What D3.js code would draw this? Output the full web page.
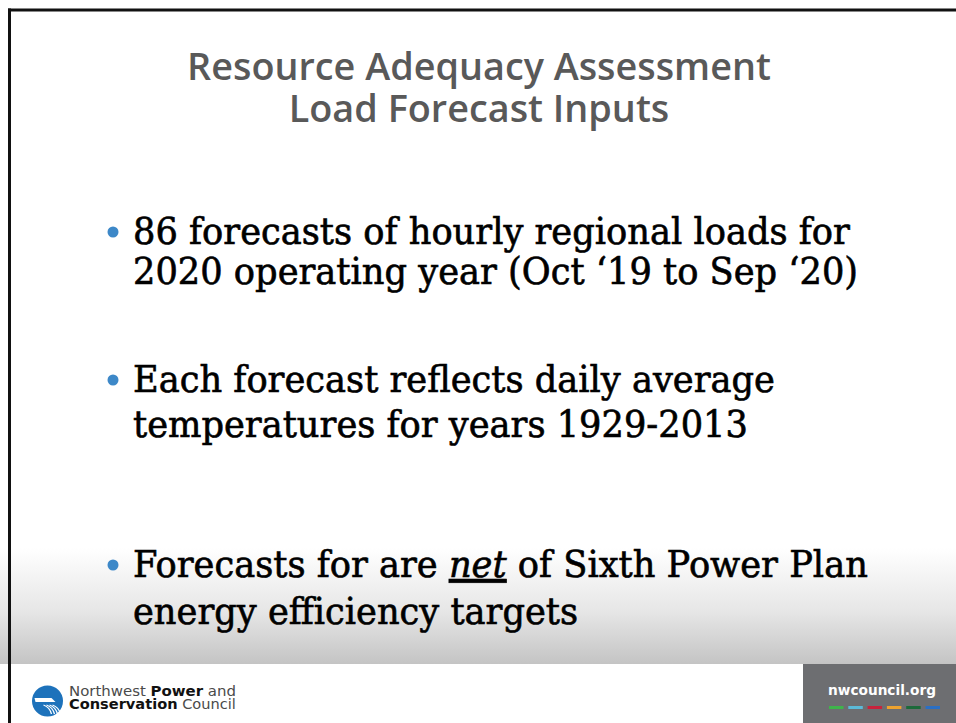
<!DOCTYPE html>
<html>
<head>
<meta charset="utf-8">
<script src="https://cdn.jsdelivr.net/npm/d3@7"></script>
<style>
  body { margin: 0; background: #fff; }
  svg { display: block; }
</style>
</head>
<body>
<div id="slide"></div>
<script>
// slide content
const titleLines = ["Resource Adequacy Assessment", "Load Forecast Inputs"];
const bulletLines = [
  ["86 forecasts of hourly regional loads for", "2020 operating year (Oct \u201819 to Sep \u201820)"],
  ["Each forecast reflects daily average", "temperatures for years 1929-2013"],
  ["Forecasts for are _net_ of Sixth Power Plan", "energy efficiency targets"]
];
const orgLine1 = [["Northwest ", false], ["Power", true], [" and", false]];
const orgLine2 = [["Conservation", true], [" Council", false]];
const siteLabel = "nwcouncil.org";
const dashColors = ["#3fb44b", "#5bbad8", "#c8223c", "#eea22e", "#1c6a3a", "#2a6fc4"];

const W = 956, H = 723;
const bulletTop = [244, 392, 577];
const bulletGap = [40, 45, 47];
const textX = 133;

const svg = d3.select("#slide").append("svg")
    .attr("width", W)
    .attr("height", H);

// shrink text to a target width
function fitWidth(sel, target) {
  const w = sel.node().getComputedTextLength();
  const fs = parseFloat(sel.attr("font-size"));
  sel.attr("font-size", fs * target / w);
  return fs * target / w;
}

// bottom gradient band
const defs = svg.append("defs");
const grad = defs.append("linearGradient")
    .attr("id", "fade")
    .attr("x1", 0).attr("y1", 0).attr("x2", 0).attr("y2", 1);
grad.append("stop").attr("offset", "0%").attr("stop-color", "#ffffff");
grad.append("stop").attr("offset", "55%").attr("stop-color", "#e6e6e6");
grad.append("stop").attr("offset", "100%").attr("stop-color", "#c4c4c4");

svg.append("rect")
    .attr("x", 0).attr("y", 548)
    .attr("width", W).attr("height", 116)
    .attr("fill", "url(#fade)");

// title
const title = svg.append("g")
    .attr("font-family", "'Open Sans', 'DejaVu Sans', sans-serif")
    .attr("font-weight", 600)
    .attr("fill", "#595959")
    .attr("text-anchor", "middle");

const titleText = title.selectAll("text")
  .data(titleLines)
  .join("text")
    .attr("x", 479)
    .attr("y", (d, i) => 80 + i * 42)
    .attr("font-size", 30)
    .text(d => d);

const titleSize = fitWidth(titleText.filter((d, i) => i === 0), 584);
titleText.attr("font-size", titleSize);

// bullets
const body = svg.append("g")
    .attr("font-family", "'DejaVu Serif', serif")
    .attr("fill", "#000")
    .attr("stroke", "#000")
    .attr("stroke-width", 0.65);

const items = body.selectAll("g.item")
  .data(bulletLines)
  .join("g")
    .attr("class", "item");

items.append("circle")
    .attr("cx", 113)
    .attr("cy", (d, i) => bulletTop[i] - 12)
    .attr("r", 5.5)
    .attr("stroke", "none")
    .attr("fill", "#3d88c8");

const lines = items.selectAll("text")
  .data((d, i) => d.map((t, j) => ({ t, y: bulletTop[i] + j * bulletGap[i] })))
  .join("text")
    .attr("font-size", 37);

lines.each(function(d) {
  const parts = d.t.split("_");
  d3.select(this).selectAll("tspan")
    .data(parts)
    .join("tspan")
      .attr("font-style", (p, k) => k % 2 ? "italic" : null)
      .attr("text-decoration", (p, k) => k % 2 ? "underline" : null)
      .text(p => p);
});

// Cambria-like: tall glyphs squeezed to the reference line width
const firstLen = lines.filter(d => d.t === bulletLines[0][0]).node().getComputedTextLength();
const squeeze = 717 / firstLen;
lines.attr("transform", d => `translate(${textX},${d.y}) scale(${squeeze},1)`);

// footer
svg.append("rect")
    .attr("x", 0).attr("y", 664)
    .attr("width", W).attr("height", H - 664)
    .attr("fill", "#fff");

svg.append("rect")
    .attr("x", 803).attr("y", 664)
    .attr("width", W - 803).attr("height", H - 664)
    .attr("fill", "#6d6e71");

svg.append("text")
    .attr("x", 882)
    .attr("y", 695)
    .attr("text-anchor", "middle")
    .attr("font-family", "'DejaVu Sans', sans-serif")
    .attr("font-weight", "bold")
    .attr("font-size", 15)
    .attr("fill", "#fff")
    .text(siteLabel)
    .call(sel => fitWidth(sel, 108));

const dashX = d3.scaleBand()
    .domain(d3.range(dashColors.length))
    .range([829, 940])
    .paddingInner(0.25);

svg.append("g").selectAll("rect")
  .data(dashColors)
  .join("rect")
    .attr("x", (d, i) => dashX(i))
    .attr("y", 706)
    .attr("width", dashX.bandwidth())
    .attr("height", 3)
    .attr("fill", d => d);

// council logo
const logo = svg.append("g").attr("transform", "translate(47.5,701)");
logo.append("circle").attr("r", 15.5).attr("fill", "#1d72bb");
logo.append("path")
    .attr("d", "M-13,-3 L4,-3 L8,1 L-12,1 Z")
    .attr("fill", "#fff");
logo.selectAll("path.wave")
  .data([0, 1, 2, 3])
  .join("path")
    .attr("class", "wave")
    .attr("d", k => `M${-4 + k * 3},4 Q${2 + k * 3},6 ${4 + k * 3},13`)
    .attr("fill", "none")
    .attr("stroke", "#fff")
    .attr("stroke-width", 1.3);

const org = svg.append("g")
    .attr("font-family", "'DejaVu Sans', sans-serif")
    .attr("fill", "#4a4a4a");

[orgLine1, orgLine2].forEach((row, i) => {
  const t = org.append("text")
      .attr("x", 69)
      .attr("y", 696 + i * 13)
      .attr("font-size", 13);
  t.selectAll("tspan")
    .data(row)
    .join("tspan")
      .attr("font-weight", d => d[1] ? "bold" : null)
      .attr("fill", d => d[1] ? "#111" : null)
      .text(d => d[0]);
  fitWidth(t, 167);
});

// slide frame
svg.append("line")
    .attr("x1", 8).attr("x2", W)
    .attr("y1", 10).attr("y2", 10)
    .attr("stroke", "#111").attr("stroke-width", 3);
svg.append("line")
    .attr("x1", 9.5).attr("x2", 9.5)
    .attr("y1", 8.5).attr("y2", H)
    .attr("stroke", "#111").attr("stroke-width", 3);
</script>
</body>
</html>
